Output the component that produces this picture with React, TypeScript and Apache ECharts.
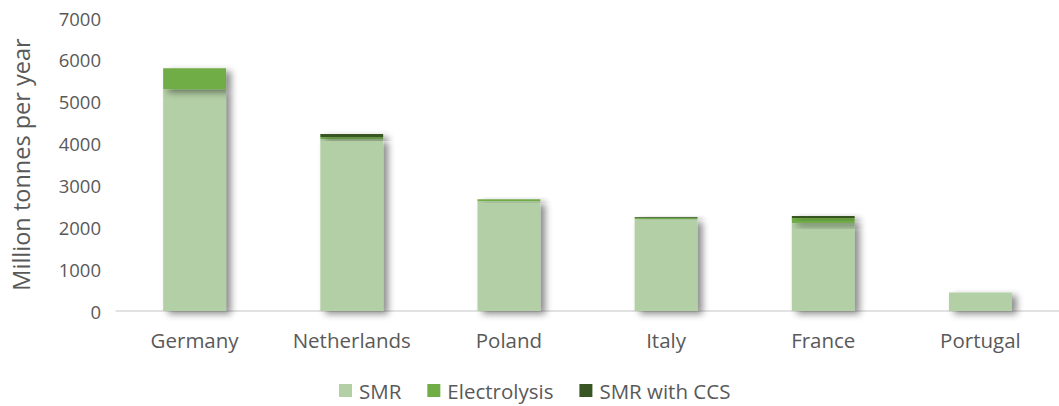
import React, { useEffect, useRef } from "react";
import * as echarts from "echarts";

const categories = ["Germany", "Netherlands", "Poland", "Italy", "France", "Portugal"];
const smr = [5300, 4110, 2630, 2200, 2100, 440];
const electrolysis = [500, 40, 40, 25, 120, 0];
const smrCcs = [0, 80, 0, 20, 50, 0];
const yTicks = [0, 1000, 2000, 3000, 4000, 5000, 6000, 7000];

const FONT = "'Open Sans', sans-serif";

export default function App() {
  const ref = useRef<HTMLDivElement>(null);
  useEffect(() => {
    if (!ref.current) return;
    const chart = echarts.init(ref.current, undefined, { renderer: "svg" });
    const shadow = {
      shadowBlur: 7,
      shadowOffsetX: 5,
      shadowOffsetY: 3,
      shadowColor: "rgba(0,0,0,0.45)",
    };
    const mk = (name: string, data: number[], color: string) => ({
      name,
      type: "bar",
      stack: "total",
      data,
      barWidth: "40%",
      itemStyle: { color, ...shadow },
      emphasis: { disabled: true },
    });
    chart.setOption({
      animation: false,
      textStyle: { fontFamily: FONT },
      grid: { left: 116, width: 950, top: 18, bottom: 95, containLabel: false },
      legend: {
        top: 380,
        left: 339,
        padding: 0,
        itemWidth: 13,
        itemHeight: 13,
        itemGap: 26,
        icon: "rect",
        textStyle: { color: "#595959", fontSize: 20.5, fontFamily: FONT, padding: [0, 0, 0, 2] },
        data: ["SMR", "Electrolysis", "SMR with CCS"],
      },
      xAxis: {
        type: "category",
        data: categories,
        axisLine: { lineStyle: { color: "#d9d9d9", width: 1.5 } },
        axisTick: { show: false },
        axisLabel: { color: "#595959", fontSize: 20.5, margin: 18, fontFamily: FONT },
      },
      yAxis: {
        type: "value",
        min: yTicks[0],
        max: yTicks[yTicks.length - 1],
        interval: 1000,
        name: "Million tonnes per year",
        nameLocation: "middle",
        nameGap: 83,
        nameTextStyle: { color: "#595959", fontSize: 23.5, fontFamily: FONT },
        splitLine: { show: false },
        axisLine: { show: false },
        axisTick: { show: false },
        axisLabel: {
          color: "#595959",
          fontSize: 18.5,
          margin: 15,
          fontFamily: FONT,
          formatter: (v: number) => String(v),
        },
      },
      series: [
        mk("SMR", smr, "#b3cfa5"),
        mk("Electrolysis", electrolysis, "#70ad47"),
        mk("SMR with CCS", smrCcs, "#375623"),
      ],
    });
    return () => chart.dispose();
  }, []);
  return (
    <div
      ref={ref}
      style={{ position: "absolute", left: 0, top: 0, width: 1059, height: 406, background: "#fff" }}
    />
  );
}
